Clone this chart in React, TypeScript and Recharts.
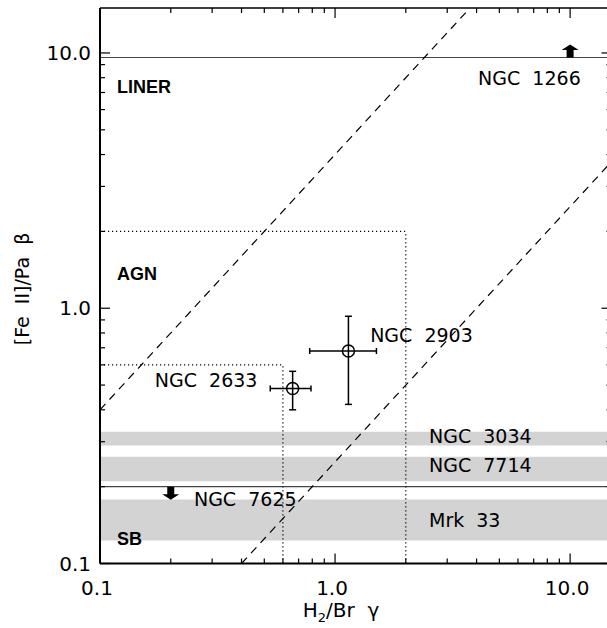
import {
  ComposedChart,
  XAxis,
  YAxis,
  Scatter,
  ErrorBar,
  ReferenceArea,
  ReferenceLine,
  ReferenceDot,
} from 'recharts';

// axis ticks (log axes, minor ticks at 2..9 of each decade)
const xTicks = [0.1, 0.2, 0.3, 0.4, 0.5, 0.6, 0.7, 0.8, 0.9, 1, 2, 3, 4, 5, 6, 7, 8, 9, 10];
const yTicks = [0.1, 0.2, 0.3, 0.4, 0.5, 0.6, 0.7, 0.8, 0.9, 1, 2, 3, 4, 5, 6, 7, 8, 9, 10];
const majorTicks = [0.1, 1, 10];
const majorLabels = ['0.1', '1.0', '10.0'];

// galaxies with measured ratios and error ranges
const galaxyNames = ['NGC 2633', 'NGC 2903'];
const galaxyX = [0.66, 1.14];
const galaxyY = [0.485, 0.68];
const galaxyXLow = [0.53, 0.78];
const galaxyXHigh = [0.79, 1.5];
const galaxyYLow = [0.4, 0.42];
const galaxyYHigh = [0.566, 0.93];

// limits (arrows)
const limitNames = ['NGC 1266', 'NGC 7625'];
const limitX = [10, 0.2];
const limitY = [9.6, 0.2];
const limitDir = ['up', 'down'];

// galaxies with only a [Fe II]/Pa beta range (gray bands)
const bandNames = ['NGC 3034', 'NGC 7714', 'Mrk 33'];
const bandLow = [0.29, 0.21, 0.123];
const bandHigh = [0.328, 0.262, 0.178];

// region boxes
const sbBox = 0.6;
const agnBox = 2.0;

// model lines: [Fe II]/Pa b = 4 * H2/Br g and 0.25 * H2/Br g
const upperLine = [{ x: 0.1, y: 0.4 }, { x: 3.75, y: 15 }];
const lowerLine = [{ x: 0.4, y: 0.1 }, { x: 15, y: 3.75 }];

// text annotations
const regionLabels = [
  { text: 'LINER', x: 0.118, y: 6.98 },
  { text: 'AGN', x: 0.118, y: 1.29 },
  { text: 'SB', x: 0.118, y: 0.118 },
];
const nameLabels = [
  { text: 'NGC  1266', x: 4.06, y: 7.5 },
  { text: 'NGC  2903', x: 1.41, y: 0.738 },
  { text: 'NGC  2633', x: 0.171, y: 0.492 },
  { text: 'NGC  3034', x: 2.51, y: 0.297 },
  { text: 'NGC  7714', x: 2.51, y: 0.229 },
  { text: 'NGC  7625', x: 0.251, y: 0.168 },
  { text: 'Mrk  33', x: 2.51, y: 0.139 },
];

const points = galaxyNames.map((name, i) => ({
  name,
  x: galaxyX[i],
  y: galaxyY[i],
  ex: [galaxyX[i] - galaxyXLow[i], galaxyXHigh[i] - galaxyX[i]],
  ey: [galaxyY[i] - galaxyYLow[i], galaxyYHigh[i] - galaxyY[i]],
}));

const limits = limitNames.map((name, i) => ({ name, x: limitX[i], y: limitY[i], dir: limitDir[i] }));

const FONT = '"DejaVu Sans", sans-serif';

const majorIndex = (v: number) => majorTicks.findIndex((m) => Math.abs(m - v) < 1e-9);

const BottomTick = (props: any) => {
  const { x, y, payload } = props;
  const i = majorIndex(payload.value);
  const len = i >= 0 ? 10 : 5;
  return (
    <g>
      <line x1={x} x2={x} y1={y} y2={y - len} stroke="#000" strokeWidth={1.2} />
      {i >= 0 && (
        <text x={x - 3} y={y + 31} textAnchor="middle" fontSize={20} fontFamily={FONT} fill="#000">
          {majorLabels[i]}
        </text>
      )}
    </g>
  );
};

const TopTick = (props: any) => {
  const { x, y, payload } = props;
  const len = majorIndex(payload.value) >= 0 ? 10 : 5;
  return <line x1={x} x2={x} y1={y} y2={y + len} stroke="#000" strokeWidth={1.2} />;
};

const LeftTick = (props: any) => {
  const { x, y, payload } = props;
  const i = majorIndex(payload.value);
  const len = i >= 0 ? 10 : 5;
  return (
    <g>
      <line x1={x} x2={x + len} y1={y} y2={y} stroke="#000" strokeWidth={1.2} />
      {i >= 0 && (
        <text x={x - 9} y={y + 7} textAnchor="end" fontSize={20} fontFamily={FONT} fill="#000">
          {majorLabels[i]}
        </text>
      )}
    </g>
  );
};

const RightTick = (props: any) => {
  const { x, y, payload } = props;
  const len = majorIndex(payload.value) >= 0 ? 10 : 5;
  return <line x1={x} x2={x - len} y1={y} y2={y} stroke="#000" strokeWidth={1.2} />;
};

const OpenCircle = (props: any) => (
  <circle cx={props.cx} cy={props.cy} r={6} fill="none" stroke="#000" strokeWidth={1.5} />
);

const Arrow = (props: any) => {
  const { cx, cy, payload } = props;
  const s = payload && payload.dir === 'down' ? 1 : -1;
  const pts = [
    [cx - 3.5, cy],
    [cx + 3.5, cy],
    [cx + 3.5, cy + s * 7.5],
    [cx + 8.5, cy + s * 7.5],
    [cx, cy + s * 13],
    [cx - 8.5, cy + s * 7.5],
    [cx - 3.5, cy + s * 7.5],
  ]
    .map((p) => p.join(','))
    .join(' ');
  return <polygon points={pts} fill="#000" />;
};

const XTitle = () => (
  <text x={341} y={617} textAnchor="middle" fontSize={20} fontFamily={FONT} fill="#000" style={{ whiteSpace: 'pre' }}>
    H
    <tspan fontSize={13} dy={5}>2</tspan>
    <tspan dy={-5}>/Br  γ</tspan>
  </text>
);

const YTitle = () => (
  <text
    x={22}
    y={289}
    transform="rotate(-90 22 289)"
    textAnchor="middle"
    dominantBaseline="central"
    fontSize={19}
    fontFamily={FONT}
    fill="#000"
    style={{ whiteSpace: 'pre' }}
  >
    [Fe  II]/Pa  β
  </text>
);

export default function App() {
  return (
    <div style={{ position: 'fixed', left: 0, top: 0, width: 607, height: 628, overflow: 'hidden', background: '#fff' }}>
      <ComposedChart width={620} height={628} margin={{ top: 7, right: 7.5, bottom: 63.5, left: 99 }}>
        <XAxis
          xAxisId={0}
          dataKey="x"
          type="number"
          scale="log"
          domain={[0.1, 15]}
          allowDataOverflow
          ticks={xTicks}
          interval={0}
          height={1}
          tickSize={0}
          tickMargin={0}
          tickLine={false}
          tick={BottomTick}
          axisLine={{ stroke: '#000', strokeWidth: 2 }}
          label={{ content: XTitle }}
        />
        <XAxis
          xAxisId="top"
          orientation="top"
          dataKey="x"
          type="number"
          scale="log"
          domain={[0.1, 15]}
          allowDataOverflow
          ticks={xTicks}
          interval={0}
          height={1}
          tickSize={0}
          tickMargin={0}
          tickLine={false}
          tick={TopTick}
          axisLine={{ stroke: '#000', strokeWidth: 1.5 }}
        />
        <YAxis
          yAxisId={0}
          dataKey="y"
          type="number"
          scale="log"
          domain={[0.1, 15]}
          allowDataOverflow
          ticks={yTicks}
          interval={0}
          width={1}
          tickSize={0}
          tickMargin={0}
          tickLine={false}
          tick={LeftTick}
          axisLine={{ stroke: '#000', strokeWidth: 2 }}
          label={{ content: YTitle }}
        />
        <YAxis
          yAxisId="right"
          orientation="right"
          dataKey="y"
          type="number"
          scale="log"
          domain={[0.1, 15]}
          allowDataOverflow
          ticks={yTicks}
          interval={0}
          width={1}
          tickSize={0}
          tickMargin={0}
          tickLine={false}
          tick={RightTick}
          axisLine={{ stroke: '#000', strokeWidth: 1.5 }}
        />

        {bandNames.map((name, i) => (
          <ReferenceArea key={name} y1={bandLow[i]} y2={bandHigh[i]} fill="#d3d3d3" fillOpacity={1} stroke="none" ifOverflow="hidden" />
        ))}

        <ReferenceLine y={limitY[0]} stroke="#444" strokeWidth={1.2} />
        <ReferenceLine y={limitY[1]} stroke="#444" strokeWidth={1.2} />

        <ReferenceLine segment={[{ x: 0.1, y: sbBox }, { x: sbBox, y: sbBox }]} stroke="#000" strokeWidth={1.2} strokeDasharray="1.2 2.8" ifOverflow="hidden" />
        <ReferenceLine segment={[{ x: sbBox, y: 0.1 }, { x: sbBox, y: sbBox }]} stroke="#000" strokeWidth={1.2} strokeDasharray="1.2 2.8" ifOverflow="hidden" />
        <ReferenceLine segment={[{ x: 0.1, y: agnBox }, { x: agnBox, y: agnBox }]} stroke="#000" strokeWidth={1.2} strokeDasharray="1.2 2.8" ifOverflow="hidden" />
        <ReferenceLine segment={[{ x: agnBox, y: 0.1 }, { x: agnBox, y: agnBox }]} stroke="#000" strokeWidth={1.2} strokeDasharray="1.2 2.8" ifOverflow="hidden" />

        <ReferenceLine segment={upperLine} stroke="#000" strokeWidth={1.2} strokeDasharray="8 6" ifOverflow="hidden" />
        <ReferenceLine segment={lowerLine} stroke="#000" strokeWidth={1.2} strokeDasharray="8 6" ifOverflow="hidden" />

        <Scatter data={points} shape={OpenCircle} isAnimationActive={false}>
          <ErrorBar dataKey="ex" direction="x" width={3} stroke="#000" strokeWidth={1.5} isAnimationActive={false} />
          <ErrorBar dataKey="ey" direction="y" width={3.5} stroke="#000" strokeWidth={1.5} isAnimationActive={false} />
        </Scatter>
        <Scatter data={limits} shape={Arrow} isAnimationActive={false} />

        {regionLabels.map((l) => (
          <ReferenceDot
            key={l.text}
            x={l.x}
            y={l.y}
            r={0}
            ifOverflow="visible"
            shape={(p: any) => (
              <text x={p.cx} y={p.cy} fontSize={18} fontWeight="bold" fontFamily='"Liberation Sans", sans-serif' fill="#000">
                {l.text}
              </text>
            )}
          />
        ))}
        {nameLabels.map((l) => (
          <ReferenceDot
            key={l.text}
            x={l.x}
            y={l.y}
            r={0}
            ifOverflow="visible"
            shape={(p: any) => (
              <text x={p.cx} y={p.cy} fontSize={19} fontFamily={FONT} fill="#000" style={{ whiteSpace: 'pre' }}>
                {l.text}
              </text>
            )}
          />
        ))}
      </ComposedChart>
    </div>
  );
}
